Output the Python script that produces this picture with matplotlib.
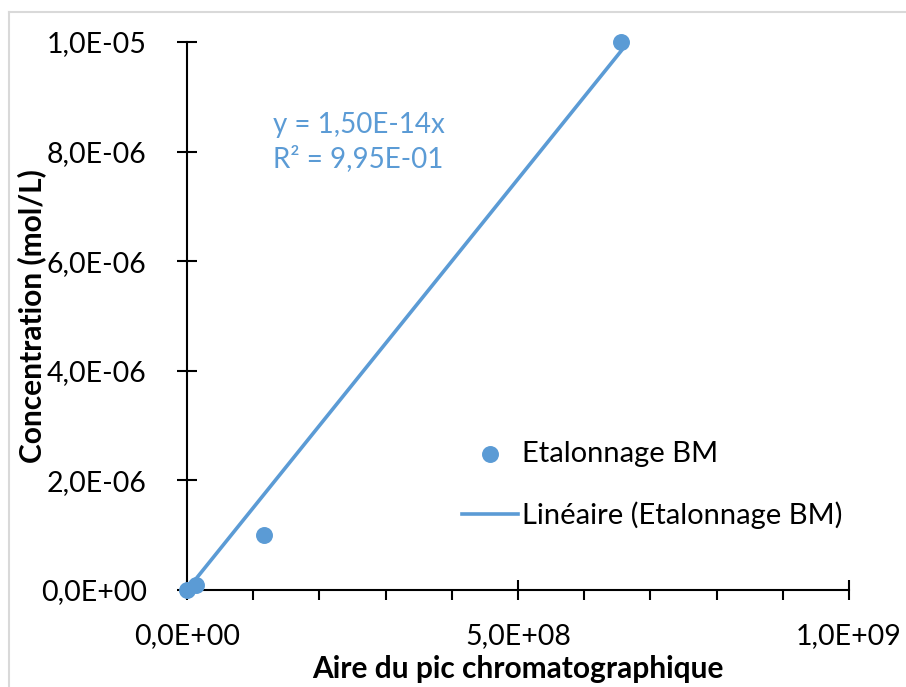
import matplotlib
matplotlib.use("Agg")
import matplotlib.pyplot as plt
from matplotlib.ticker import FuncFormatter, MultipleLocator
from matplotlib.lines import Line2D
import numpy as np

# Data
area = [0.0, 1.3e7, 1.16e8, 6.56e8]
conc = [0.0, 1.0e-7, 1.0e-6, 1.0e-5]
slope = 1.50e-14
r2 = 0.995
series_label = "Etalonnage BM"
trend_label = "Linéaire (Etalonnage BM)"
xlabel = "Aire du pic chromatographique"
ylabel = "Concentration (mol/L)"

COLOR = "#5B9BD5"
plt.rcParams['font.family'] = ['Lato', 'DejaVu Sans']

W, H = 906, 687
fig = plt.figure(figsize=(W/100, H/100), dpi=100)
# chart-area border (only left and top edges visible in the crop)
fig.add_artist(Line2D([8.5/W, 8.5/W], [0, 1 - 12/H], transform=fig.transFigure, color='#D9D9D9', lw=1.5))
fig.add_artist(Line2D([8.5/W, 1], [1 - 12/H, 1 - 12/H], transform=fig.transFigure, color='#D9D9D9', lw=1.5))

ax = fig.add_axes([187/W, 97/H, 662/W, 548/H])

def fmt(v, pos):
    return f"{v:.1E}".replace('.', ',')

ax.set_xlim(0, 1e9)
ax.set_ylim(0, 1e-5)
ax.xaxis.set_major_locator(MultipleLocator(5e8))
ax.xaxis.set_minor_locator(MultipleLocator(1e8))
ax.yaxis.set_major_locator(MultipleLocator(2e-6))
ax.xaxis.set_major_formatter(FuncFormatter(fmt))
ax.yaxis.set_major_formatter(FuncFormatter(fmt))

for s in ['top', 'right']:
    ax.spines[s].set_visible(False)
for s in ['left', 'bottom']:
    ax.spines[s].set_linewidth(1.5)
ax.tick_params(axis='both', which='major', direction='inout', length=14, width=1.5, labelsize=20.5)
ax.tick_params(axis='x', which='major', pad=17)
ax.tick_params(axis='y', which='major', pad=22)
ax.tick_params(axis='x', which='minor', direction='out', length=7, width=1.5)

xs = np.array([min(area), max(area)])
trend, = ax.plot(xs, slope * xs, color=COLOR, lw=2.6, label=trend_label, zorder=2, clip_on=False)
pts = ax.scatter(area, conc, s=125, color=COLOR, label=series_label, zorder=3, clip_on=False)

eq = f"y = {slope:.2E}x".replace('.', ',') + "\n" + f"R² = {r2:.2E}".replace('.', ',')
ax.text(273/W, 1 - 112/H, eq, transform=fig.transFigure, color=COLOR, fontsize=20,
        va='top', ha='left', linespacing=1.32)

ax.set_xlabel(xlabel, fontsize=21.5, fontweight='bold', labelpad=4)
ax.set_ylabel(ylabel, fontsize=21.5, fontweight='bold')
ax.yaxis.set_label_coords((46 - 187) / 662, 0.5)

leg = fig.legend(handles=[pts, trend], labels=[series_label, trend_label],
                 loc='center left', bbox_to_anchor=(436/W, 1 - 485/H), frameon=False,
                 fontsize=21, labelspacing=1.2, handlelength=1.9, handletextpad=0.15,
                 scatterpoints=1, markerscale=1.0)

fig.savefig("out.png", dpi=100)
